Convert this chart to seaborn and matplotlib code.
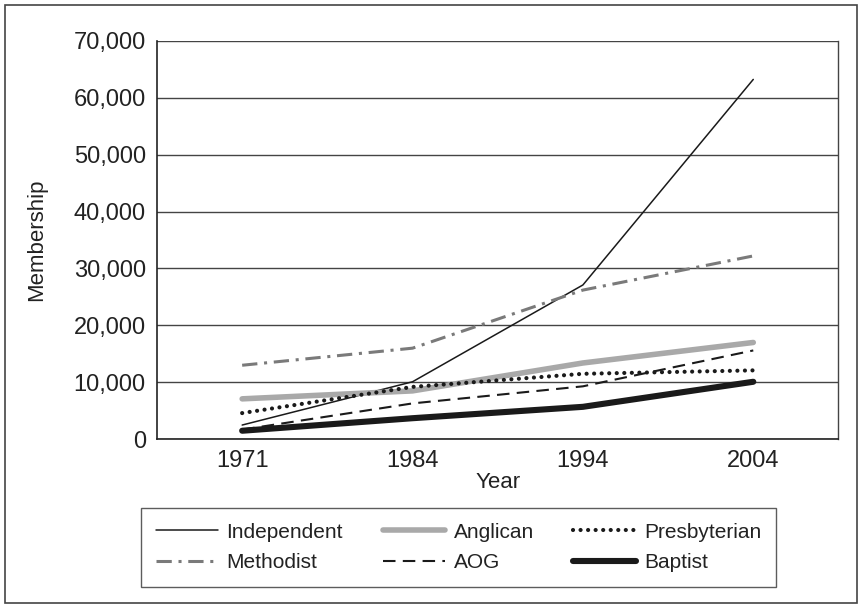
import numpy as np
import pandas as pd
import matplotlib
matplotlib.use("Agg")
import matplotlib.pyplot as plt
from matplotlib.patches import Rectangle
from matplotlib.ticker import FuncFormatter, FixedLocator
import seaborn as sns

# data
years = ["1971", "1984", "1994", "2004"]
independent = [2500, 10100, 27100, 63200]
anglican = [7100, 8500, 13400, 17000]
presbyterian = [4600, 9200, 11500, 12100]
methodist = [13000, 16000, 26200, 32200]
aog = [1700, 6300, 9300, 15600]
baptist = [1500, 3700, 5700, 10100]

series = {
    "Independent": independent,
    "Anglican": anglican,
    "Presbyterian": presbyterian,
    "Methodist": methodist,
    "AOG": aog,
    "Baptist": baptist,
}

styles = {
    "Independent": dict(color="#1a1a1a", lw=1.1, ls="-"),
    "Anglican": dict(color="#a9a9a9", lw=4.0, ls="-"),
    "Presbyterian": dict(color="#1a1a1a", lw=3.0, ls=(0, (0.01, 1.8)), dash_capstyle="round"),
    "Methodist": dict(color="#7a7a7a", lw=2.2, ls=(0, (5, 2.2, 1, 2.2))),
    "AOG": dict(color="#1a1a1a", lw=1.5, ls=(0, (6, 3.5))),
    "Baptist": dict(color="#1a1a1a", lw=4.4, ls="-"),
}

sns.set_theme(style="white")
plt.rcParams["font.family"] = ["Liberation Sans", "DejaVu Sans"]
plt.rcParams["text.color"] = "#222222"
plt.rcParams["axes.labelcolor"] = "#222222"
plt.rcParams["xtick.color"] = "#222222"
plt.rcParams["ytick.color"] = "#222222"

fig = plt.figure(figsize=(8.62, 6.08), dpi=100)
ax = fig.add_axes([0.1821, 0.2775, 0.7906, 0.6556])

x = np.arange(len(years))
handles = {}
for name, vals in series.items():
    df = pd.DataFrame({"x": x, "y": vals})
    st = styles[name]
    sns.lineplot(data=df, x="x", y="y", ax=ax, color=st["color"], linewidth=st["lw"],
                 linestyle=st["ls"], label=name, legend=False)
    line = ax.lines[-1]
    if "dash_capstyle" in st:
        line.set_dash_capstyle(st["dash_capstyle"])
    handles[name] = line

ax.set_xlim(-0.5, len(years) - 0.5)
ax.set_ylim(0, 70000)
ax.set_yticks(np.arange(0, 70001, 10000))
ax.yaxis.set_major_formatter(FuncFormatter(lambda v, p: f"{int(v):,}"))
ax.set_xticks(x)
ax.set_xticklabels(years)
ax.xaxis.set_minor_locator(FixedLocator(np.arange(-0.5, len(years), 1.0)))
ax.tick_params(axis="x", which="major", length=0, labelsize=17, pad=8)
ax.tick_params(axis="x", which="minor", length=5, width=1, color="#333333")
ax.tick_params(axis="y", which="major", length=5, width=1, color="#333333", labelsize=17, pad=3)
ax.grid(axis="y", color="#444444", linewidth=1)
ax.set_axisbelow(True)

for side in ["left", "bottom"]:
    ax.spines[side].set_color("#222222")
    ax.spines[side].set_linewidth(1.2)
ax.spines["right"].set_color("#444444")
ax.spines["right"].set_linewidth(1)
ax.spines["top"].set_visible(False)

ax.set_xlabel("Year", fontsize=16, labelpad=0)
ax.set_ylabel("Membership", fontsize=16, labelpad=19)

order = ["Independent", "Methodist", "Anglican", "AOG", "Presbyterian", "Baptist"]
leg = ax.legend([handles[n] for n in order], order, ncol=3, loc="upper center",
                bbox_to_anchor=(0.532, 0.1645), bbox_transform=fig.transFigure,
                fontsize=15, frameon=True, fancybox=False, handlelength=3.0,
                columnspacing=1.9, handletextpad=0.4, labelspacing=0.55,
                borderpad=0.7, borderaxespad=0)
leg.get_frame().set_edgecolor("#333333")
leg.get_frame().set_linewidth(1)

fig.patches.append(Rectangle((5 / 862, 5 / 608), 852 / 862, 598 / 608, transform=fig.transFigure,
                             fill=False, edgecolor="#444444", linewidth=1.2))

fig.savefig("out.png", dpi=100)
